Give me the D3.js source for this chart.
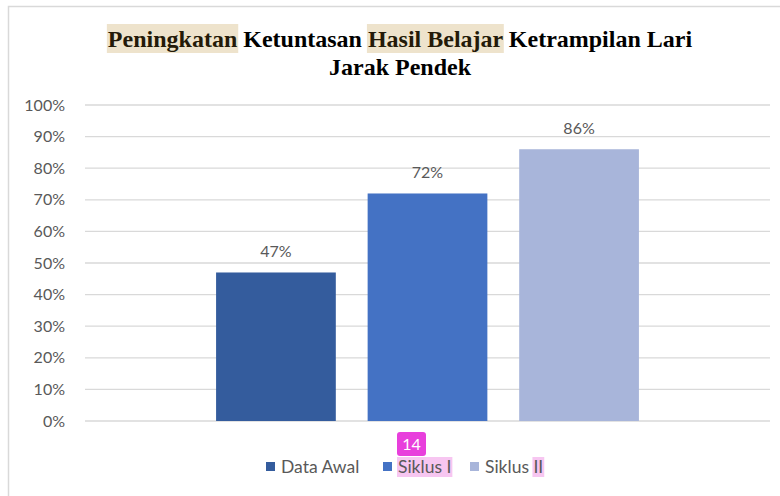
<!DOCTYPE html>
<html>
<head>
<meta charset="utf-8">
<script src="https://cdn.jsdelivr.net/npm/d3@7"></script>
<style>
  html, body { margin:0; padding:0; background:#fff; }
  svg { display:block; }
  .title, .title tspan { font-family: "Liberation Serif", "DejaVu Serif", serif; font-weight: bold; }
</style>
</head>
<body>
<div id="chart"></div>
<script>
// chart data
var series = ["Data Awal", "Siklus I", "Siklus II"];
var values = [0.47, 0.72, 0.86];
var colors = ["#345c9d", "#4472c4", "#a8b5da"];
var yTicks = [0, 0.1, 0.2, 0.3, 0.4, 0.5, 0.6, 0.7, 0.8, 0.9, 1.0];

// title pieces, hl = highlighted background
var titleLine1 = [
    {t:"Peningkatan", hl:true},
    {t:" Ketuntasan ", hl:false},
    {t:"Hasil Belajar", hl:true},
    {t:" Ketrampilan Lari", hl:false}
];
var titleLine2 = [{t:"Jarak Pendek", hl:false}];

var W = 780, H = 496;
var m = {top:105, right:10, bottom:75, left:85};
var plotW = 770 - m.left, plotH = 421 - m.top;
var txtFont = "Lato, 'Open Sans', sans-serif";
var grey = "#595959";

var svg = d3.select("#chart").append("svg")
    .attr("width", W).attr("height", H);

// outer frame
svg.append("rect")
    .attr("x", 8.5).attr("y", 6.5)
    .attr("width", W + 10).attr("height", H + 10)
    .style("fill", "#fff")
    .style("stroke", "#d9d9d9")
    .style("stroke-width", 1.5);

var hlLayer = svg.append("g").attr("class", "highlights");

var g = svg.append("g").attr("transform", "translate(" + m.left + "," + m.top + ")");

var y = d3.scaleLinear().domain([0, 1]).range([plotH, 0]);

// single category holding three series, like the excel chart
var x0 = d3.scaleBand().domain(["all"]).range([0, plotW]).paddingInner(0).paddingOuter(0.31);
var x1 = d3.scaleBand().domain(series).range([0, x0.bandwidth()]).paddingInner(0.21);

// gridlines
g.append("g").selectAll("line").data(yTicks).enter().append("line")
    .attr("x1", 0).attr("x2", plotW)
    .attr("y1", function(d){ return y(d); })
    .attr("y2", function(d){ return y(d); })
    .style("stroke", "#d9d9d9")
    .style("stroke-width", 1.3);

// y axis labels
var yAxis = d3.axisLeft(y).tickValues(yTicks).tickFormat(d3.format(".0%")).tickSize(0).tickPadding(20);
var ga = g.append("g").call(yAxis);
ga.select(".domain").remove();
ga.selectAll("text")
    .style("font-family", txtFont)
    .style("font-size", "16px")
    .style("fill", grey);

// bars
var bars = g.append("g").attr("transform", "translate(" + x0("all") + ",0)");
bars.selectAll("rect").data(series).enter().append("rect")
    .attr("x", function(d){ return x1(d); })
    .attr("width", x1.bandwidth())
    .attr("y", function(d,i){ return y(values[i]); })
    .attr("height", function(d,i){ return plotH - y(values[i]); })
    .style("fill", function(d,i){ return colors[i]; });

bars.selectAll("text.val").data(series).enter().append("text")
    .attr("class", "val")
    .attr("x", function(d){ return x1(d) + x1.bandwidth()/2; })
    .attr("y", function(d,i){ return y(values[i]) - 15; })
    .attr("text-anchor", "middle")
    .style("font-family", txtFont)
    .style("font-size", "16px")
    .style("fill", grey)
    .text(function(d,i){ return d3.format(".0%")(values[i]); });

// title
function sumLen(parts, i) {
    var s = 0;
    for (var k = 0; k < i; k++) s += parts[k].t.length;
    return s;
}
function drawTitleLine(parts, cy) {
    var t = svg.append("text")
        .attr("class", "title")
        .attr("x", 400).attr("y", cy)
        .attr("text-anchor", "middle")
        .style("font-size", "24px")
        .style("white-space", "pre");
    t.selectAll("tspan").data(parts).enter().append("tspan")
        .style("fill", function(d){ return d.hl ? "#241a08" : "#000"; })
        .text(function(d){ return d.t; });
    parts.forEach(function(d, i){
        if (!d.hl) return;
        var a = sumLen(parts, i);
        var s = t.node().getStartPositionOfChar(a);
        var e = t.node().getEndPositionOfChar(a + d.t.length - 1);
        hlLayer.append("rect")
            .attr("x", s.x - 1).attr("y", cy - 23)
            .attr("width", e.x - s.x + 2).attr("height", 29)
            .style("fill", "#eee3cc");
    });
}
drawTitleLine(titleLine1, 47);
drawTitleLine(titleLine2, 75);

// legend
var legX = [266, 383, 470];
var legend = svg.append("g").attr("transform", "translate(0,467)");
var legHl = legend.append("g");
var li = legend.selectAll("g.item").data(series).enter().append("g")
    .attr("class", "item")
    .attr("transform", function(d,i){ return "translate(" + legX[i] + ",0)"; });
li.append("rect")
    .attr("x", 0).attr("y", -5).attr("width", 9).attr("height", 9)
    .style("fill", function(d,i){ return colors[i]; });
li.append("text")
    .attr("x", 15).attr("y", 0).attr("dy", "0.35em")
    .style("font-family", txtFont)
    .style("font-size", "17.5px")
    .style("fill", grey)
    .text(function(d){ return d; });

// annotation marks present on the reference picture
var t1 = li.filter(function(d){ return d === "Siklus I"; }).select("text").node();
var t2 = li.filter(function(d){ return d === "Siklus II"; }).select("text").node();
var b1 = t1.getBBox();
legHl.append("rect")
    .attr("x", legX[1] + b1.x - 1).attr("y", -10)
    .attr("width", b1.width + 2).attr("height", 20)
    .style("fill", "#f7c6f1");
var s2 = t2.getStartPositionOfChar(series[2].length - 2);
var e2 = t2.getEndPositionOfChar(series[2].length - 1);
legHl.append("rect")
    .attr("x", legX[2] + s2.x - 1).attr("y", -10)
    .attr("width", e2.x - s2.x + 2).attr("height", 20)
    .style("fill", "#f7c6f1");
var badge = svg.append("g").attr("transform", "translate(397,432)");
badge.append("rect").attr("width", 29).attr("height", 24).attr("rx", 3)
    .style("fill", "#e83fdc");
badge.append("text").attr("x", 14.5).attr("y", 12).attr("dy", "0.35em")
    .attr("text-anchor", "middle")
    .style("font-family", txtFont).style("font-size", "16px")
    .style("fill", "#fff").text("14");
</script>
</body>
</html>
